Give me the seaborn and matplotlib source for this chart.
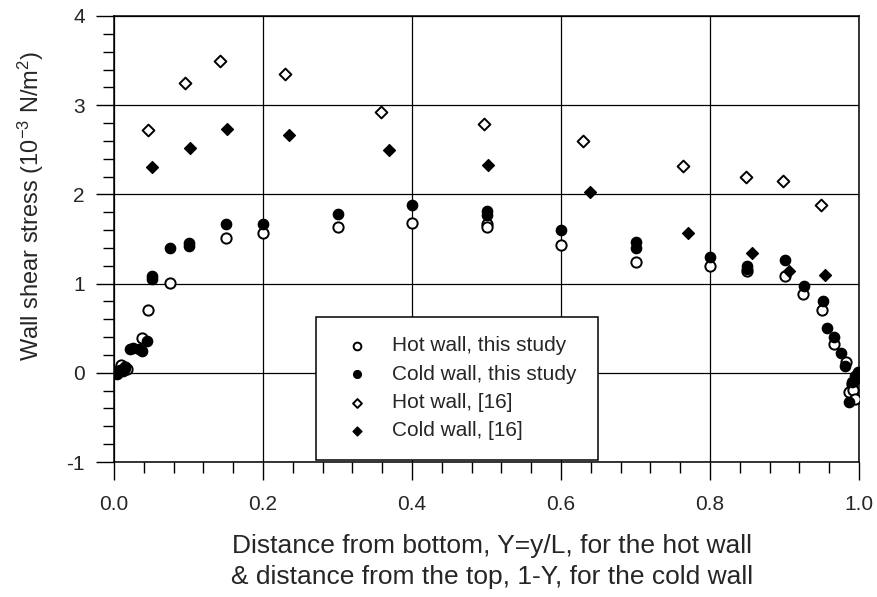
import matplotlib
matplotlib.use("Agg")
import matplotlib.pyplot as plt
from matplotlib.ticker import MultipleLocator, FormatStrFormatter
import seaborn as sns

sns.set_style("white")
plt.rcParams["font.family"] = ["Liberation Sans", "DejaVu Sans"]
plt.rcParams["mathtext.default"] = "regular"
plt.rcParams["axes.unicode_minus"] = False

# Wall shear stress, present computation
hot_x_study = [0.000, 0.004, 0.010, 0.015, 0.018, 0.037, 0.045, 0.075, 0.150, 0.200,
               0.300, 0.400, 0.500, 0.500, 0.600, 0.700, 0.800, 0.850, 0.900, 0.925,
               0.950, 0.966, 0.982, 0.986, 0.990, 0.992, 0.995]
hot_y_study = [0.00, 0.02, 0.09, 0.06, 0.04, 0.39, 0.70, 1.01, 1.51, 1.57,
               1.64, 1.68, 1.67, 1.63, 1.43, 1.24, 1.20, 1.14, 1.08, 0.88,
               0.70, 0.32, 0.12, -0.21, -0.12, -0.19, -0.29]

cold_x_study = [0.000, 0.004, 0.008, 0.012, 0.015, 0.021, 0.026, 0.033, 0.037, 0.044,
                0.051, 0.051, 0.075, 0.100, 0.100, 0.150, 0.200, 0.300, 0.400, 0.500,
                0.500, 0.600, 0.700, 0.700, 0.800, 0.850, 0.850, 0.900, 0.926, 0.951,
                0.957, 0.966, 0.976, 0.981, 0.986, 0.990, 0.995, 0.998, 1.000]
cold_y_study = [0.00, -0.01, 0.03, 0.02, 0.05, 0.27, 0.28, 0.27, 0.25, 0.36,
                1.08, 1.05, 1.40, 1.42, 1.45, 1.67, 1.67, 1.78, 1.88, 1.81,
                1.77, 1.60, 1.47, 1.40, 1.30, 1.20, 1.16, 1.27, 0.97, 0.81,
                0.50, 0.40, 0.22, 0.08, -0.33, -0.10, -0.04, 0.01, -0.06]

# Wall shear stress, reference [16]
hot_x_ref = [0.046, 0.095, 0.142, 0.229, 0.359, 0.496, 0.629, 0.764, 0.848, 0.898, 0.949]
hot_y_ref = [2.72, 3.25, 3.50, 3.35, 2.92, 2.79, 2.60, 2.32, 2.20, 2.15, 1.88]

cold_x_ref = [0.051, 0.102, 0.151, 0.235, 0.369, 0.502, 0.639, 0.771, 0.857, 0.906, 0.955]
cold_y_ref = [2.31, 2.52, 2.73, 2.67, 2.50, 2.33, 2.03, 1.57, 1.34, 1.14, 1.10]

labels = ["Hot wall, this study", "Cold wall, this study", "Hot wall, [16]", "Cold wall, [16]"]

fig = plt.figure(figsize=(8.77, 5.97), dpi=100)
ax = fig.add_axes([0.130, 0.2261, 0.8495, 0.7471])

circ_s = 7.4 ** 2
dia_s = 6.0 ** 2
sns.scatterplot(x=hot_x_study, y=hot_y_study, ax=ax, marker="o", s=circ_s,
                facecolor="white", edgecolor="black", linewidth=1.4, label=labels[0], zorder=3)
sns.scatterplot(x=cold_x_study, y=cold_y_study, ax=ax, marker="o", s=circ_s,
                facecolor="black", edgecolor="black", linewidth=1.0, label=labels[1], zorder=4)
sns.scatterplot(x=hot_x_ref, y=hot_y_ref, ax=ax, marker="D", s=dia_s,
                facecolor="white", edgecolor="black", linewidth=1.4, label=labels[2], zorder=3)
sns.scatterplot(x=cold_x_ref, y=cold_y_ref, ax=ax, marker="D", s=dia_s,
                facecolor="black", edgecolor="black", linewidth=1.0, label=labels[3], zorder=4)

ax.set_xlim(0, 1)
ax.set_ylim(-1, 4)
ax.xaxis.set_major_locator(MultipleLocator(0.2))
ax.xaxis.set_minor_locator(MultipleLocator(0.04))
ax.xaxis.set_major_formatter(FormatStrFormatter("%.1f"))
ax.yaxis.set_major_locator(MultipleLocator(1))
ax.yaxis.set_minor_locator(MultipleLocator(0.2))

ax.grid(True, which="major", color="black", linewidth=0.9)
ax.set_axisbelow(True)
for sp in ax.spines.values():
    sp.set_color("black")
    sp.set_linewidth(1.1)

ax.tick_params(axis="both", which="major", direction="out", length=13, width=1.0,
               color="black", labelsize=15, bottom=True, left=True)
ax.tick_params(axis="x", which="major", pad=11)
ax.tick_params(axis="y", which="major", pad=8)
ax.tick_params(axis="both", which="minor", direction="out", length=8, width=1.0,
               color="black", bottom=True, left=True)

ax.set_xlabel("")
ax.set_ylabel("")
fig.text(0.035, 0.655, "Wall shear stress (10$^{-3}$ N/m$^2$)", rotation=90,
         ha="center", va="center", fontsize=17)
fig.text(0.561, 0.060,
         "Distance from bottom, Y=y/L, for the hot wall\n& distance from the top, 1-Y, for the cold wall",
         ha="center", va="center", fontsize=19, linespacing=1.38, multialignment="center")

leg = ax.legend(loc="lower left", bbox_to_anchor=(0.271, 0.004, 0.379, 0.32), mode="expand",
                borderaxespad=0, fontsize=15, frameon=True, fancybox=False, framealpha=1,
                edgecolor="black", borderpad=0.95, handlelength=2.0, handletextpad=0.7,
                labelspacing=0.45, markerscale=0.75)
leg.get_frame().set_linewidth(1.1)

fig.savefig("out.png", dpi=100)
